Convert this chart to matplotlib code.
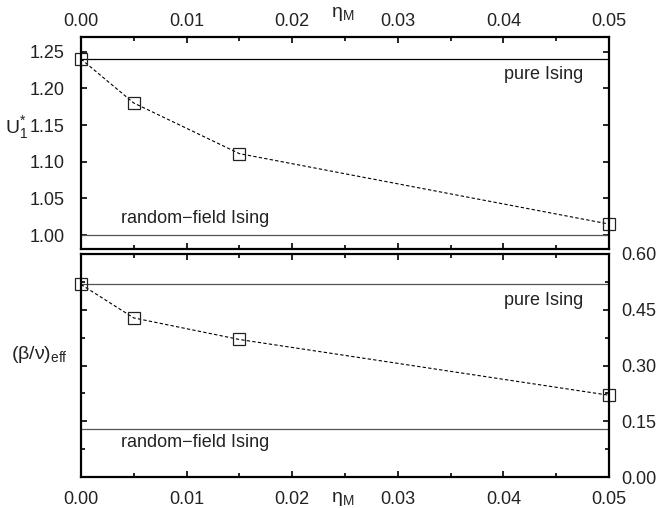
import numpy as np
import matplotlib
matplotlib.use('Agg')
import matplotlib.pyplot as plt
from matplotlib.ticker import MultipleLocator, FormatStrFormatter

plt.rcParams['font.family'] = ['Liberation Sans', 'DejaVu Sans']
plt.rcParams['mathtext.fontset'] = 'custom'
plt.rcParams['mathtext.rm'] = 'Liberation Sans'
plt.rcParams['mathtext.it'] = 'Liberation Sans'

# data
eta_M = [0.0, 0.005, 0.015, 0.05]
U1_star = [1.240, 1.180, 1.111, 1.015]
beta_nu_eff = [0.518, 0.428, 0.370, 0.220]

U1_pure = 1.240
U1_rf = 1.000
bn_pure = 0.518
bn_rf = 0.128

W, H = 656, 508
fig = plt.figure(figsize=(W / 100, H / 100), dpi=100)

ax1 = fig.add_axes([81 / W, 1 - 249 / H, 528 / W, 212 / H])
ax2 = fig.add_axes([81 / W, 1 - 477 / H, 528 / W, 223 / H])

FS = 13

for ax in (ax1, ax2):
    ax.set_xlim(0, 0.05)
    ax.xaxis.set_major_locator(MultipleLocator(0.01))
    ax.xaxis.set_minor_locator(MultipleLocator(0.005))
    ax.xaxis.set_major_formatter(FormatStrFormatter('%.2f'))
    for s in ax.spines.values():
        s.set_linewidth(1.6)
    ax.tick_params(which='both', direction='in', top=True, bottom=True,
                   left=True, right=True, width=1.2, labelsize=FS,
                   labelcolor='#222222')
    ax.tick_params(which='major', length=4.5)
    ax.tick_params(which='minor', length=3)

# ---- top panel: U1*
ax1.set_ylim(0.981, 1.27)
ax1.yaxis.set_major_locator(MultipleLocator(0.05))
ax1.yaxis.set_major_formatter(FormatStrFormatter('%.2f'))
ax1.tick_params(axis='x', labeltop=True, labelbottom=False, pad=5)
ax1.tick_params(axis='y', pad=12)
ax1.axhline(U1_pure, color='black', lw=0.9)
ax1.axhline(U1_rf, color='#555555', lw=0.9)
ax1.plot(eta_M, U1_star, color='black', lw=0.8, ls=(0, (3, 2)),
         marker='s', ms=8.5, mfc='none', mec='#222222', mew=0.9, clip_on=False)
ax1.text(0.0476, 1.219, 'pure Ising', ha='right', va='center', fontsize=FS, color='#222222')
ax1.text(0.00375, 1.022, 'random\u2212field Ising', ha='left', va='center', fontsize=FS,
         color='#222222')
ax1.text(-0.0061, 1.146, r'$\mathrm{U}_1^{*}$', ha='center', va='center', fontsize=FS + 1,
         color='#222222')
ax1.text(0.0248, 1.065, r'$\mathrm{\eta_M}$', transform=ax1.get_xaxis_transform(),
         ha='center', va='bottom', fontsize=FS + 1, color='#222222')

# ---- bottom panel: (beta/nu)_eff
ax2.set_ylim(0.0, 0.6)
ax2.yaxis.set_major_locator(MultipleLocator(0.15))
ax2.yaxis.set_minor_locator(MultipleLocator(0.075))
ax2.yaxis.set_major_formatter(FormatStrFormatter('%.2f'))
ax2.tick_params(axis='y', labelleft=False, labelright=True, pad=9)
ax2.tick_params(axis='x', pad=10)
ax2.axhline(bn_pure, color='#555555', lw=0.9)
ax2.axhline(bn_rf, color='#555555', lw=0.9)
ax2.plot(eta_M, beta_nu_eff, color='black', lw=0.8, ls=(0, (3, 2)),
         marker='s', ms=8.5, mfc='none', mec='#222222', mew=0.9, clip_on=False)
ax2.text(0.0476, 0.476, 'pure Ising', ha='right', va='center', fontsize=FS, color='#222222')
ax2.text(0.00375, 0.094, 'random\u2212field Ising', ha='left', va='center', fontsize=FS,
         color='#222222')
ax2.text(-0.0039, 0.33, r'$(\mathrm{\beta/\nu})_\mathrm{eff}$', ha='center', va='center',
         fontsize=FS + 1, color='#222222')
ax2.text(0.0248, -0.06, r'$\mathrm{\eta_M}$', transform=ax2.get_xaxis_transform(),
         ha='center', va='top', fontsize=FS + 1, color='#222222')

fig.savefig('out.png', dpi=100)
